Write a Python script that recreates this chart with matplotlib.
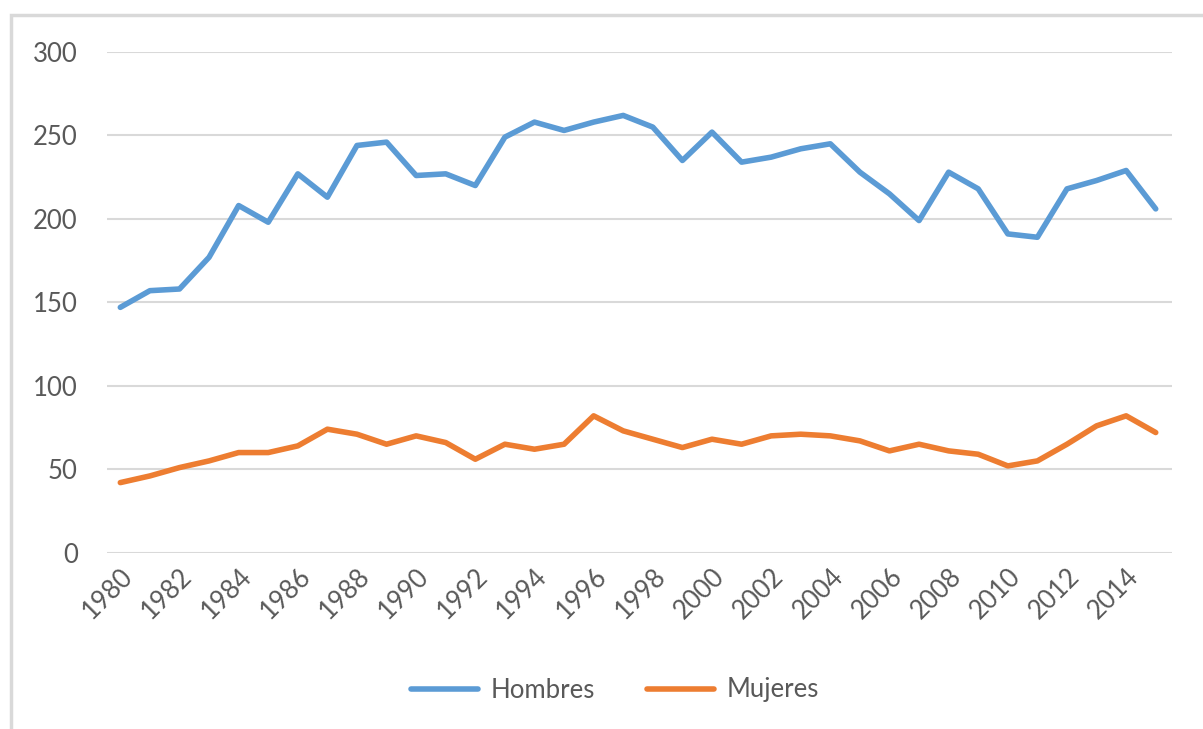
import matplotlib.pyplot as plt
from matplotlib.patches import Rectangle

# datos
anios = list(range(1980, 2016))
hombres = [147, 157, 158, 177, 208, 198, 227, 213, 244, 246,
           226, 227, 220, 249, 258, 253, 258, 262, 255, 235,
           252, 234, 237, 242, 245, 228, 215, 199, 228, 218,
           191, 189, 218, 223, 229, 206]
mujeres = [42, 46, 51, 55, 60, 60, 64, 74, 71, 65,
           70, 66, 56, 65, 62, 65, 82, 73, 68, 63,
           68, 65, 70, 71, 70, 67, 61, 65, 61, 59,
           52, 55, 65, 76, 82, 72]
ticks_x = list(range(1980, 2016, 2))
ticks_y = [0, 50, 100, 150, 200, 250, 300]

plt.rcParams['font.family'] = ['Lato', 'DejaVu Sans']
gris = '#595959'

fig = plt.figure(figsize=(12.03, 7.29), dpi=100)
ax = fig.add_axes([107 / 1203, 1 - 552.7 / 729, 1065 / 1203, 500.7 / 729])

ax.plot(anios, hombres, color='#5B9BD5', lw=4.0, label='Hombres',
        solid_joinstyle='round', solid_capstyle='round')
ax.plot(anios, mujeres, color='#ED7D31', lw=4.0, label='Mujeres',
        solid_joinstyle='round', solid_capstyle='round')

ax.set_xlim(1979.55, 2015.55)
ax.set_ylim(0, 300)
ax.set_yticks(ticks_y)
ax.set_xticks(ticks_x)
ax.set_xticklabels([str(a) for a in ticks_x], rotation=45, ha='right',
                   rotation_mode='anchor')
ax.tick_params(axis='both', length=0, colors=gris, labelsize=18.5)
ax.tick_params(axis='y', pad=21)
ax.tick_params(axis='x', pad=8)
ax.grid(axis='y', color='#d9d9d9', lw=1.5)
ax.set_axisbelow(True)
for s in ax.spines.values():
    s.set_visible(False)

leg = fig.legend(loc='center', bbox_to_anchor=(615 / 1203, 1 - 690 / 729),
                 ncol=2, frameon=False, fontsize=18.5, handlelength=2.6,
                 columnspacing=2.0, handletextpad=0.5)
for t in leg.get_texts():
    t.set_color(gris)

# marco del grafico
fig.patches.append(Rectangle((11 / 1203, -0.1), 1.2, 1.1 - 15 / 729,
                             transform=fig.transFigure, fill=False,
                             edgecolor='#d9d9d9', lw=2.5))

fig.savefig('out.png', dpi=100)
